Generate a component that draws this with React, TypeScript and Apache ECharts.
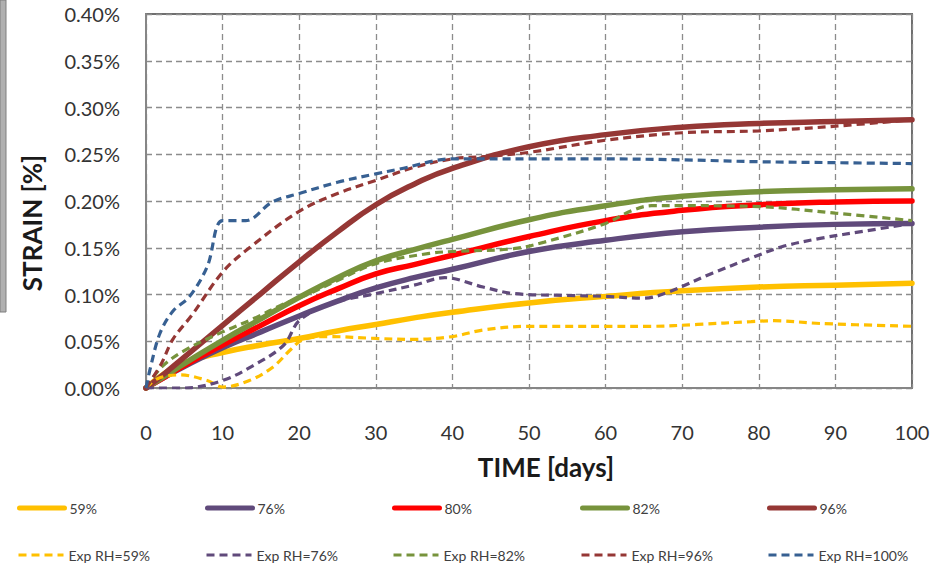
import React, { useEffect, useRef } from "react";
import * as echarts from "echarts";

// ---- Data (strain in %) ----
const modelDays = [0, 2.5, 5, 10, 15, 20, 25, 30, 35, 40, 50, 60, 70, 80, 90, 100];
const model59 = [0, 0.016, 0.027, 0.038, 0.046, 0.053, 0.061, 0.068, 0.075, 0.081, 0.091, 0.098, 0.104, 0.108, 0.110, 0.112];
const model76 = [0, 0.012, 0.023, 0.043, 0.060, 0.077, 0.093, 0.107, 0.118, 0.127, 0.146, 0.158, 0.167, 0.172, 0.175, 0.176];
const model80 = [0, 0.012, 0.024, 0.046, 0.067, 0.088, 0.106, 0.122, 0.132, 0.142, 0.162, 0.179, 0.190, 0.196, 0.199, 0.200];
const model82 = [0, 0.013, 0.026, 0.051, 0.074, 0.097, 0.118, 0.136, 0.148, 0.159, 0.180, 0.195, 0.205, 0.210, 0.212, 0.213];
const model96 = [0, 0.016, 0.033, 0.067, 0.101, 0.135, 0.167, 0.196, 0.218, 0.235, 0.258, 0.271, 0.279, 0.283, 0.285, 0.287];

const exp59Days = [0, 1.5, 4.5, 8, 10, 13.5, 16.5, 19, 20.5, 24, 30, 35, 40, 44, 50, 60, 66, 72, 79, 82, 88, 100];
const exp59 = [0, 0.010, 0.014, 0.008, 0.001, 0.008, 0.022, 0.042, 0.052, 0.055, 0.053, 0.052, 0.055, 0.062, 0.066, 0.066, 0.066, 0.068, 0.071, 0.072, 0.069, 0.066];

const exp76Days = [0, 5, 10, 14, 18, 20, 24, 30, 35, 39, 44, 48, 55, 60, 65, 68, 74, 79, 83, 88, 94, 100];
const exp76 = [0, 0, 0.008, 0.024, 0.046, 0.072, 0.090, 0.101, 0.110, 0.118, 0.108, 0.101, 0.099, 0.098, 0.096, 0.102, 0.123, 0.139, 0.151, 0.160, 0.168, 0.176];

const exp82Days = [0, 2, 5, 10, 14, 18, 20, 25, 30, 37, 40, 48, 52, 60, 63.5, 66, 70, 80, 90, 100];
const exp82 = [0, 0.022, 0.040, 0.060, 0.074, 0.090, 0.096, 0.115, 0.133, 0.144, 0.146, 0.149, 0.156, 0.176, 0.190, 0.195, 0.195, 0.194, 0.187, 0.179];

const exp96Days = [0, 2, 3.5, 6, 10, 13.5, 20, 25, 30, 35, 40, 45, 50, 60, 70, 80, 90, 100];
const exp96 = [0, 0.026, 0.052, 0.078, 0.124, 0.150, 0.189, 0.208, 0.222, 0.236, 0.245, 0.248, 0.252, 0.265, 0.273, 0.275, 0.280, 0.287];

const exp100Days = [0, 0.5, 1.8, 3.5, 5.7, 8, 10, 13, 16.5, 20, 25, 30, 33, 40, 50, 60, 70, 80, 90, 100];
const exp100 = [0, 0.019, 0.058, 0.082, 0.098, 0.130, 0.179, 0.179, 0.199, 0.208, 0.220, 0.229, 0.234, 0.245, 0.245, 0.245, 0.244, 0.242, 0.241, 0.240];

const legendRow1 = ["59%", "76%", "80%", "82%", "96%"];
const legendRow2 = ["Exp RH=59%", "Exp RH=76%", "Exp RH=82%", "Exp RH=96%", "Exp RH=100%"];

const COLORS = {
  yellow: "#FFC000",
  purple: "#604A7B",
  red: "#FF0000",
  green: "#77933C",
  brown: "#953735",
  blue: "#376092",
};

const pair = (xs: number[], ys: number[]) => xs.map((x, i) => [x, ys[i]]);

export default function App() {
  const ref = useRef<HTMLDivElement>(null);

  useEffect(() => {
    if (!ref.current) return;
    const chart = echarts.init(ref.current, null, { renderer: "svg" });

    const solid = (name: string, color: string, xs: number[], ys: number[]) => ({
      name,
      type: "line",
      data: pair(xs, ys),
      smooth: 0.5,
      symbol: "none",
      lineStyle: { color, width: 5.5, type: "solid", cap: "round" },
      itemStyle: { color },
    });
    const dashed = (name: string, color: string, xs: number[], ys: number[]) => ({
      name,
      type: "line",
      data: pair(xs, ys),
      smooth: 0.35,
      symbol: "none",
      lineStyle: { color, width: 3.2, type: [8, 5] },
      itemStyle: { color },
    });

    const colX = [17, 205, 392, 580, 767];
    const legends: any[] = [];
    const mkLegend = (n: string, x: number, y: number, w: number) => ({
      data: [n],
      left: x,
      top: y,
      itemWidth: 45,
      itemHeight: 16,
      padding: 0,
      itemStyle: { opacity: 0 },
      lineStyle: { width: w },
      textStyle: { fontFamily: "Lato", fontSize: 14, color: "#404040" },
    });
    legendRow1.forEach((n, i) => legends.push(mkLegend(n, colX[i], 501, 5)));
    legendRow2.forEach((n, i) => legends.push(mkLegend(n, colX[i], 548, 3)));

    chart.setOption({
      animation: false,
      backgroundColor: "#ffffff",
      grid: {
        left: 146,
        right: 21,
        top: 14,
        bottom: 181,
        show: true,
        borderColor: "#6f6f6f",
        borderWidth: 2,
      },
      legend: legends,
      xAxis: {
        type: "value",
        min: 0,
        max: 100,
        interval: 10,
        axisLine: { show: true, lineStyle: { color: "#868686", width: 2 } },
        axisTick: { show: false },
        axisLabel: { fontFamily: "Lato", fontSize: 20, color: "#333333", margin: 34 },
        splitLine: { show: true, lineStyle: { color: "#8c8c8c", width: 1.3, type: [6, 4] } },
      },
      yAxis: {
        type: "value",
        min: 0,
        max: 0.4,
        interval: 0.05,
        axisLine: { show: true, lineStyle: { color: "#868686", width: 2 } },
        axisTick: { show: false },
        axisLabel: {
          fontFamily: "Lato",
          fontSize: 20,
          color: "#333333",
          margin: 26,
          formatter: (v: number) => v.toFixed(2) + "%",
        },
        splitLine: { show: true, lineStyle: { color: "#8c8c8c", width: 1.3, type: [6, 4] } },
      },
      graphic: [
        {
          type: "rect",
          shape: { x: 0, y: 0, width: 6, height: 312 },
          style: { fill: "#b0b0b0", stroke: "#7f7f7f", lineWidth: 1 },
        },
        {
          type: "text",
          x: 32,
          y: 223,
          rotation: Math.PI / 2,
          style: {
            text: "STRAIN [%]",
            font: "bold 26px Lato",
            fill: "#1a1a1a",
            textAlign: "center",
            textVerticalAlign: "middle",
          },
        },
        {
          type: "text",
          x: 546,
          y: 467,
          style: {
            text: "TIME [days]",
            font: "bold 26px Lato",
            fill: "#1a1a1a",
            textAlign: "center",
            textVerticalAlign: "middle",
          },
        },
      ],
      series: [
        solid("59%", COLORS.yellow, modelDays, model59),
        solid("76%", COLORS.purple, modelDays, model76),
        solid("80%", COLORS.red, modelDays, model80),
        solid("82%", COLORS.green, modelDays, model82),
        solid("96%", COLORS.brown, modelDays, model96),
        dashed("Exp RH=59%", COLORS.yellow, exp59Days, exp59),
        dashed("Exp RH=76%", COLORS.purple, exp76Days, exp76),
        dashed("Exp RH=82%", COLORS.green, exp82Days, exp82),
        dashed("Exp RH=96%", COLORS.brown, exp96Days, exp96),
        dashed("Exp RH=100%", COLORS.blue, exp100Days, exp100),
      ],
    });

    return () => chart.dispose();
  }, []);

  return (
    <div
      ref={ref}
      style={{ position: "absolute", left: 0, top: 0, width: 933, height: 569, background: "#fff" }}
    />
  );
}
